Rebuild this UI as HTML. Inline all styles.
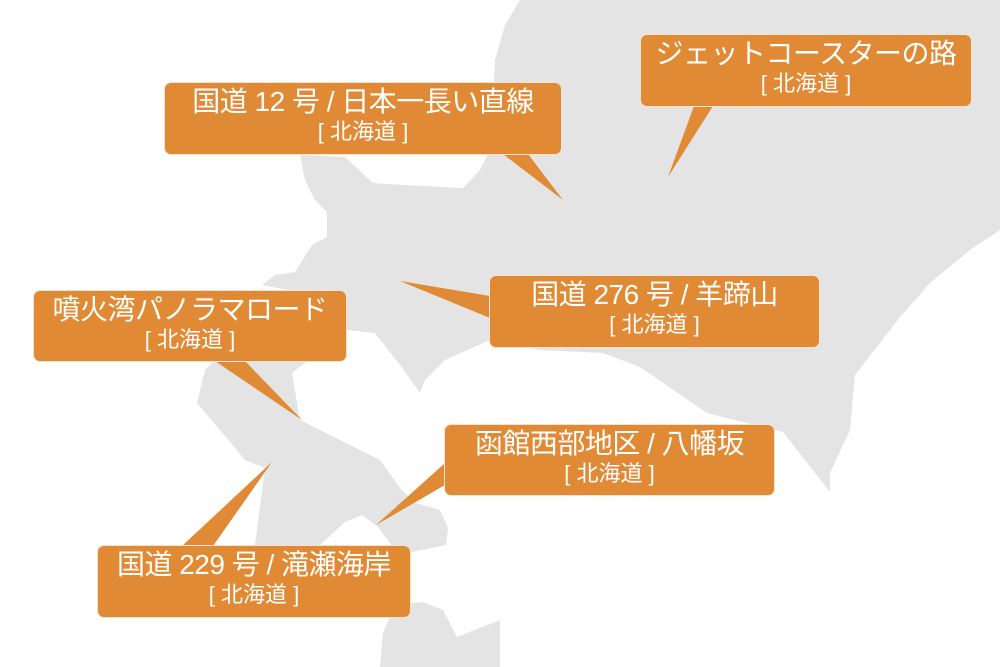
<!DOCTYPE html>
<html><head><meta charset="utf-8"><style>
html,body{margin:0;padding:0;background:#fff;}
.wrap{position:relative;width:1000px;height:667px;overflow:hidden;}
svg{position:absolute;left:0;top:0;}
.b{position:absolute;background:#e08a35;border:1.5px solid #f6e3cf;border-radius:7px;color:#fff;text-align:center;font-family:"Liberation Sans","Noto Sans CJK JP",sans-serif;box-sizing:border-box;white-space:nowrap;}
.b .l1{font-size:28px;line-height:30px;margin-top:4px;letter-spacing:-0.5px;}
.b .l2{font-size:22px;line-height:30px;}
</style></head><body><div class="wrap">
<svg width="1000" height="667">
<g fill="#e4e4e4">
<polygon points="520,0 1000,0 1000,230 970,250 930,283 900,317 855,375 850,430 830,473 830,492 783,432 707,413 640,367 603,353 540,350 490,340 445,360 425,380 420,393 400,365 375,333 347,330 340,300 262,285 275,275 295,272 312,245 327,237 327,212 315,200 305,180 300,155 345,157 373,183 405,185 463,188 480,170 490,150 495,60 505,25"/>
<polygon points="347,330 300,330 240,335 205,370 197,403 220,430 245,460 265,468 255,545 320,545 345,522 362,515 378,527 392,546 412,552 446,545 448,528 440,510 415,503 400,488 380,460 340,440 300,420 292,373"/>
<polygon points="383,633 395,605 423,602 443,610 457,637 500,620 500,667 380,667"/>
</g>
<g fill="#e08a35">
<polygon points="503,154 528,154 563,200"/>
<polygon points="694,106 713,106 668,177"/>
<polygon points="490,296 490,318 400,281"/>
<polygon points="215,361 245,361 302,420"/>
<polygon points="445,463 445,485 376,525"/>
<polygon points="182,546 213,546 272,462"/>
</g>
</svg>
<div class="b" style="left:164px;top:82px;width:398px;height:73px"><div class="l1">国道 12 号 / 日本一長い直線</div><div class="l2">[ 北海道 ]</div></div>
<div class="b" style="left:640px;top:34px;width:332px;height:73px"><div class="l1">ジェットコースターの路</div><div class="l2">[ 北海道 ]</div></div>
<div class="b" style="left:489px;top:275px;width:331px;height:73px"><div class="l1">国道 276 号 / 羊蹄山</div><div class="l2">[ 北海道 ]</div></div>
<div class="b" style="left:33px;top:290px;width:314px;height:72px"><div class="l1">噴火湾パノラマロード</div><div class="l2">[ 北海道 ]</div></div>
<div class="b" style="left:444px;top:424px;width:331px;height:72px"><div class="l1">函館西部地区 / 八幡坂</div><div class="l2">[ 北海道 ]</div></div>
<div class="b" style="left:97px;top:545px;width:314px;height:73px"><div class="l1">国道 229 号 / 滝瀬海岸</div><div class="l2">[ 北海道 ]</div></div>
</div></body></html>
